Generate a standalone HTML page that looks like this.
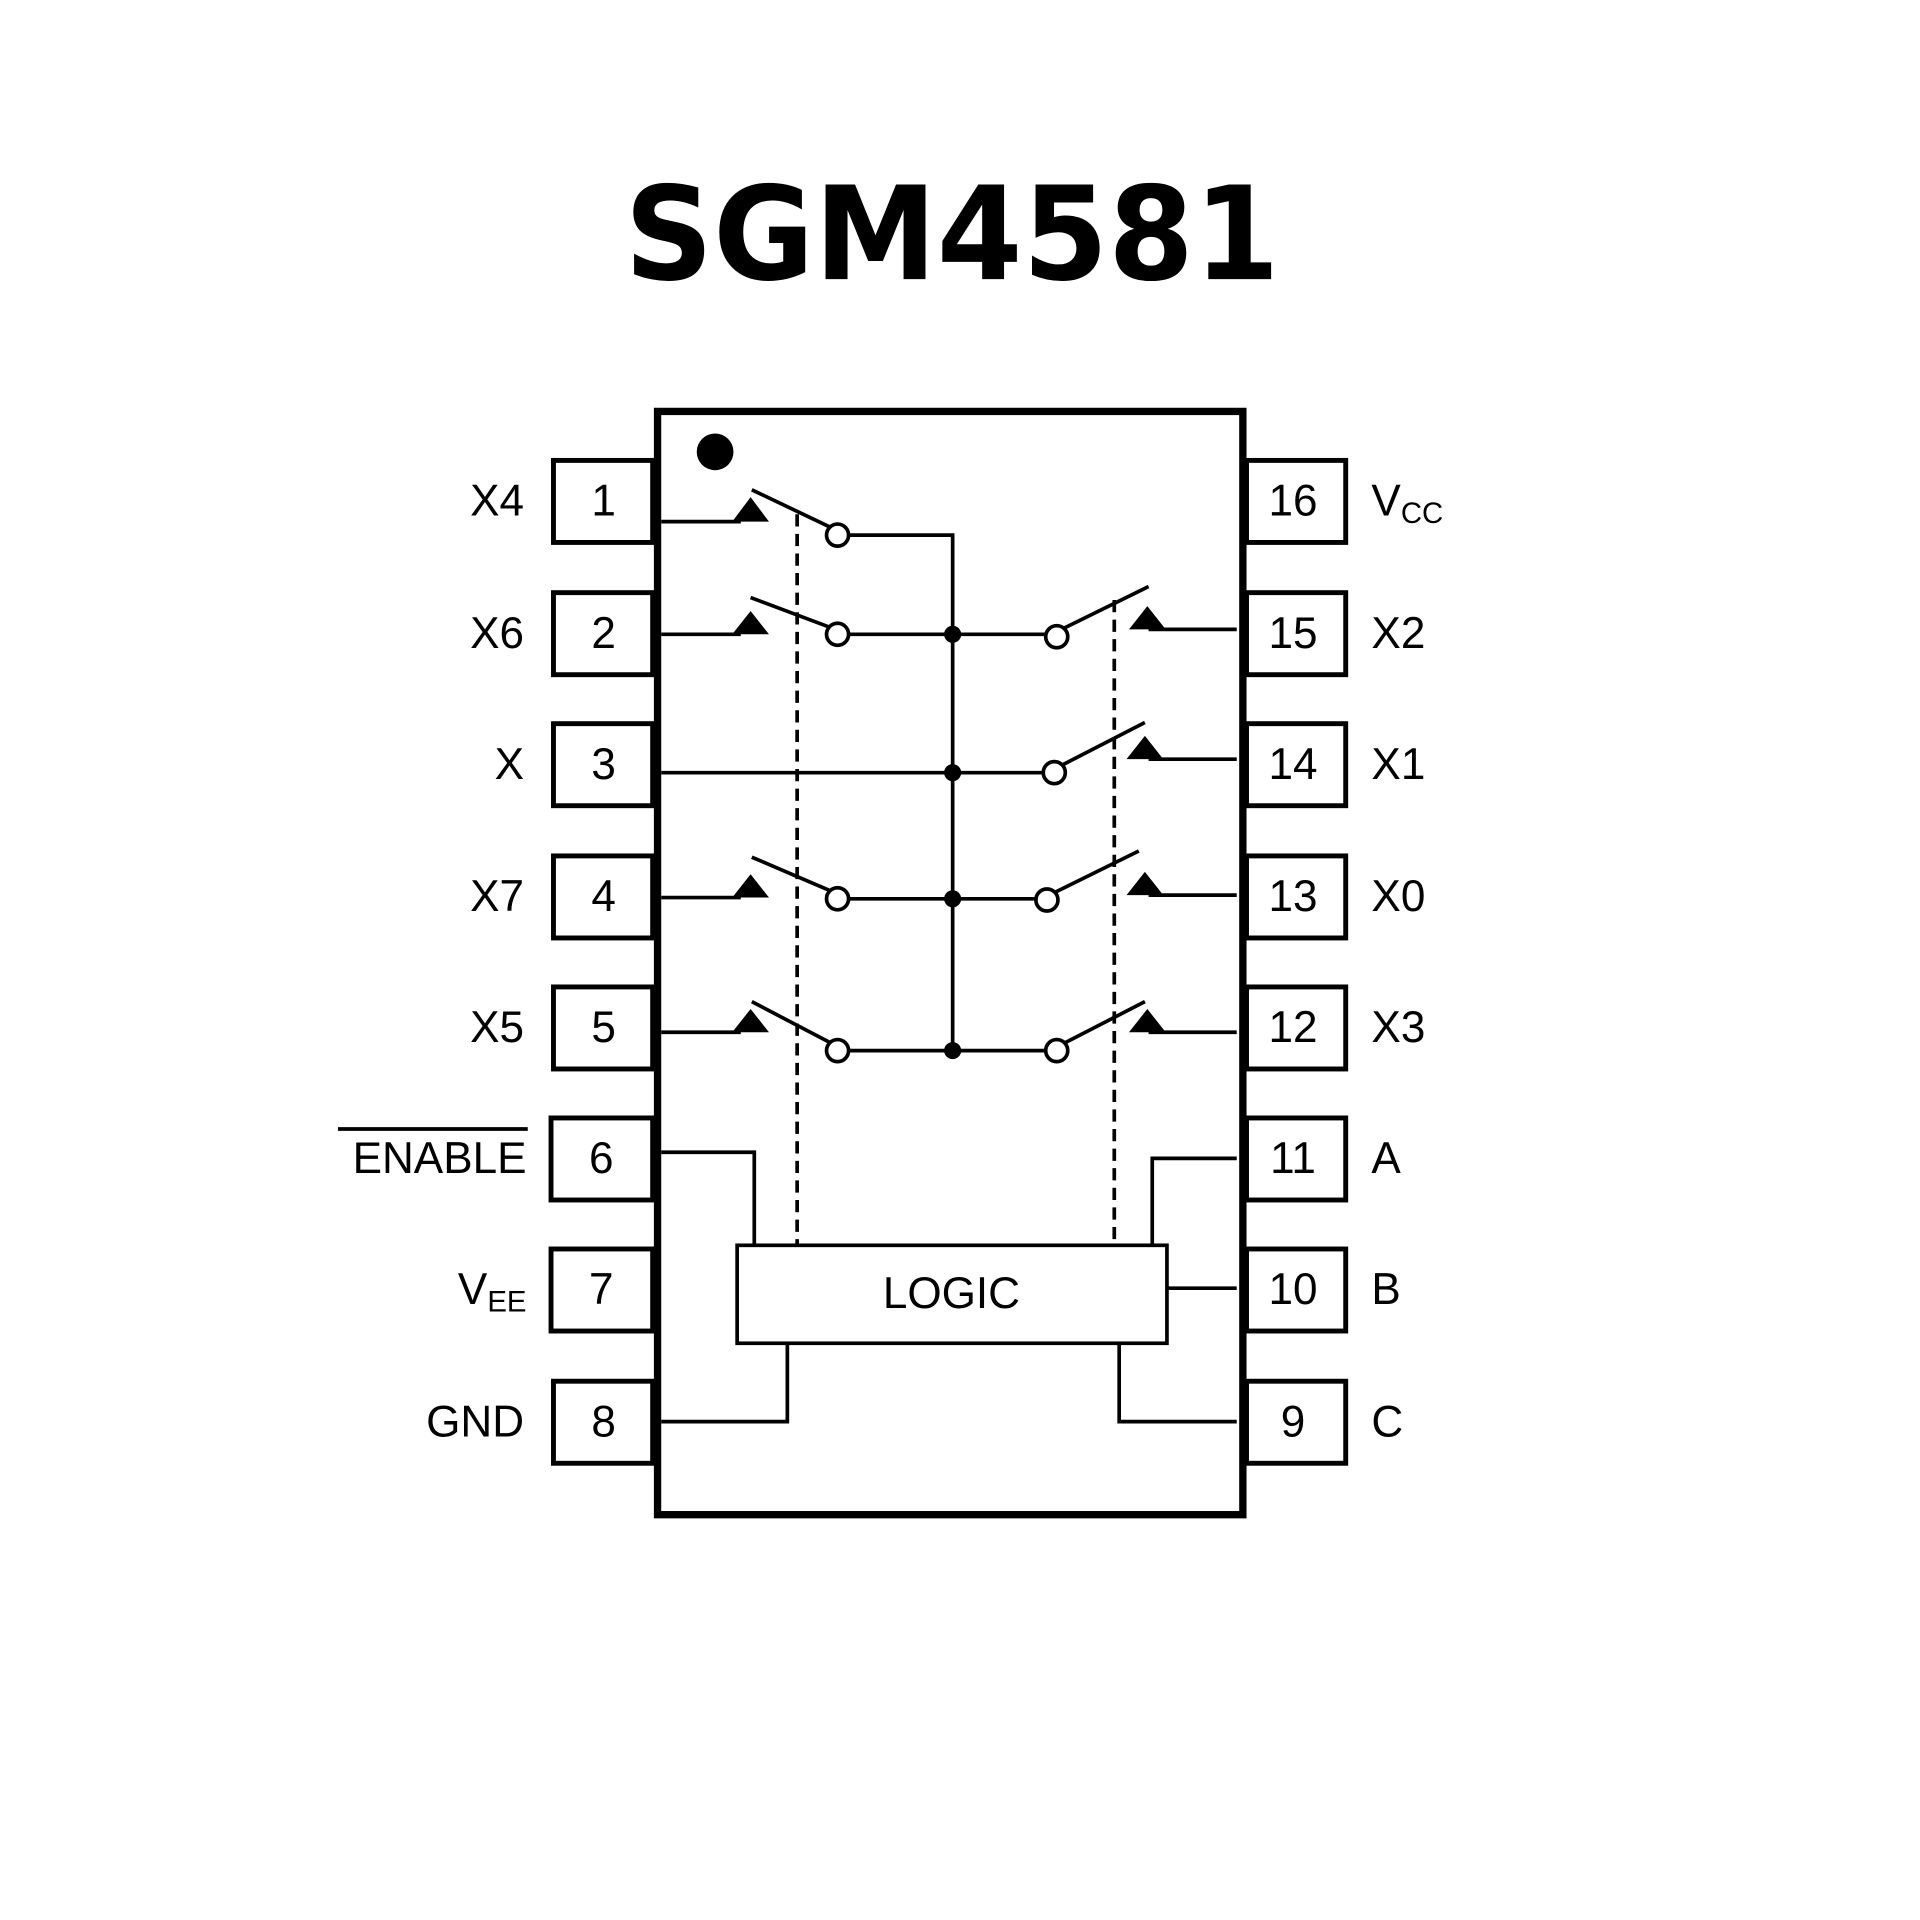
<!DOCTYPE html>
<html><head><meta charset="utf-8"><style>
html,body{margin:0;padding:0;background:#fff;}
svg{display:block;}
text{font-family:"Liberation Sans",sans-serif;fill:#000;}
</style></head><body>
<svg width="1920" height="1920" viewBox="0 0 1568 1568" xmlns="http://www.w3.org/2000/svg">
<text x="510" y="228" font-size="106" font-weight="bold" textLength="535" lengthAdjust="spacingAndGlyphs" style="font-family:'DejaVu Sans','Liberation Sans',sans-serif">SGM4581</text>
<rect x="537" y="336" width="478" height="901" fill="none" stroke="#000" stroke-width="6"/>
<circle cx="584" cy="369" r="15" fill="#000"/>
<g fill="none" stroke="#000" stroke-width="4">
<rect x="452" y="376" width="81" height="67"/><rect x="452" y="484" width="81" height="67"/>
<rect x="452" y="591" width="81" height="67"/><rect x="452" y="699" width="81" height="67"/>
<rect x="452" y="806" width="81" height="67"/><rect x="450" y="913" width="83" height="67"/>
<rect x="450" y="1020" width="83" height="67"/><rect x="452" y="1128" width="81" height="67"/>
<rect x="1018" y="376" width="81" height="67"/><rect x="1018" y="484" width="81" height="67"/>
<rect x="1018" y="591" width="81" height="67"/><rect x="1018" y="699" width="81" height="67"/>
<rect x="1018" y="806" width="81" height="67"/><rect x="1018" y="913" width="81" height="67"/>
<rect x="1018" y="1020" width="81" height="67"/><rect x="1018" y="1128" width="81" height="67"/>
</g>
<g font-size="36" text-anchor="middle">
<text x="493" y="421">1</text><text x="493" y="529">2</text><text x="493" y="636">3</text><text x="493" y="744">4</text>
<text x="493" y="851">5</text><text x="491" y="958">6</text><text x="491" y="1065">7</text><text x="493" y="1173">8</text>
<text x="1056" y="421">16</text><text x="1056" y="529">15</text><text x="1056" y="636">14</text><text x="1056" y="744">13</text>
<text x="1056" y="851">12</text><text x="1056" y="958">11</text><text x="1056" y="1065">10</text><text x="1056" y="1173">9</text>
</g>
<g font-size="36" text-anchor="end">
<text x="428" y="421">X4</text><text x="428" y="529">X6</text><text x="428" y="636">X</text><text x="428" y="744">X7</text>
<text x="428" y="851">X5</text><text x="430" y="958">ENABLE</text>
<text x="430" y="1065">V<tspan font-size="24" dy="6">EE</tspan></text>
<text x="428" y="1173">GND</text>
</g>
<line x1="276" y1="922" x2="431" y2="922" stroke="#000" stroke-width="3"/>
<g font-size="36">
<text x="1120" y="421">V<tspan font-size="24" dy="6">CC</tspan></text>
<text x="1120" y="529">X2</text><text x="1120" y="636">X1</text><text x="1120" y="744">X0</text>
<text x="1120" y="851">X3</text><text x="1120" y="958">A</text><text x="1120" y="1065">B</text><text x="1120" y="1173">C</text>
</g>
<g fill="none" stroke="#000" stroke-width="3">
<line x1="540" y1="426" x2="605" y2="426"/><line x1="540" y1="518" x2="605" y2="518"/>
<line x1="540" y1="631" x2="852" y2="631"/>
<line x1="540" y1="733" x2="605" y2="733"/><line x1="540" y1="843" x2="605" y2="843"/>
<line x1="614" y1="400" x2="677" y2="430"/><line x1="613" y1="488" x2="677" y2="512"/>
<line x1="614" y1="700" x2="677" y2="727"/><line x1="614" y1="818" x2="677" y2="851"/>
<polyline points="693,437 778,437 778,858"/>
<line x1="693" y1="518" x2="854" y2="518"/>
<line x1="693" y1="734" x2="846" y2="734"/>
<line x1="693" y1="858" x2="854" y2="858"/>
<line x1="869" y1="513" x2="938" y2="479"/><line x1="867" y1="625" x2="935" y2="590"/>
<line x1="861" y1="729" x2="930" y2="695"/><line x1="869" y1="852" x2="935" y2="818"/>
<line x1="938" y1="514" x2="1010" y2="514"/><line x1="938" y1="620" x2="1010" y2="620"/>
<line x1="938" y1="731" x2="1010" y2="731"/><line x1="938" y1="843" x2="1010" y2="843"/>
<circle cx="684" cy="437" r="9" fill="#fff"/><circle cx="684" cy="518" r="9" fill="#fff"/>
<circle cx="684" cy="734" r="9" fill="#fff"/><circle cx="684" cy="858" r="9" fill="#fff"/>
<circle cx="863" cy="520" r="9" fill="#fff"/><circle cx="861" cy="631" r="9" fill="#fff"/>
<circle cx="855" cy="735" r="9" fill="#fff"/><circle cx="863" cy="858" r="9" fill="#fff"/>
<line x1="651" y1="420" x2="651" y2="1016" stroke-dasharray="10,6"/>
<line x1="910" y1="490" x2="910" y2="1016" stroke-dasharray="10,6"/>
<rect x="602" y="1017" width="351" height="80"/>
<polyline points="540,941 616,941 616,1017"/>
<polyline points="1010,946 941,946 941,1017"/>
<line x1="953" y1="1052" x2="1010" y2="1052"/>
<polyline points="540,1161 643,1161 643,1097"/>
<polyline points="1010,1161 914,1161 914,1097"/>
</g>
<g fill="#000">
<polygon points="598,426 628,426 613,406"/><polygon points="598,518 628,518 613,499"/>
<polygon points="598,733 628,733 613,714"/><polygon points="598,843 628,843 613,824"/>
<polygon points="922,514 952,514 937,495"/><polygon points="920,620 950,620 935,601"/>
<polygon points="920,731 950,731 935,712"/><polygon points="922,843 952,843 937,824"/>
<circle cx="778" cy="518" r="7"/><circle cx="778" cy="631" r="7"/>
<circle cx="778" cy="734" r="7"/><circle cx="778" cy="858" r="7"/>
</g>
<text x="777" y="1068" font-size="36" text-anchor="middle">LOGIC</text>
</svg>
</body></html>
